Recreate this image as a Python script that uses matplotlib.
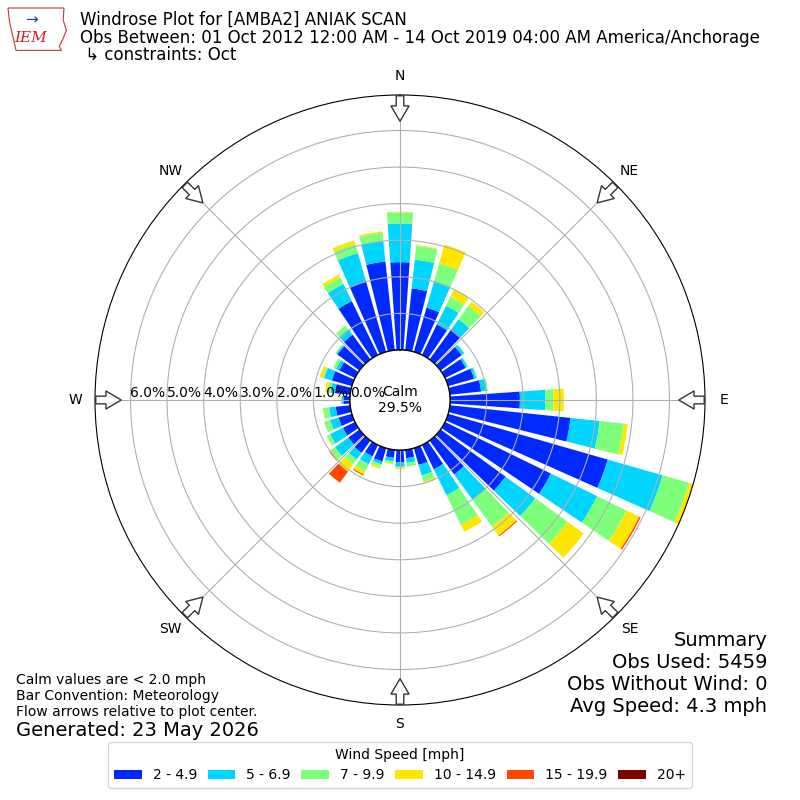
import numpy as np
import matplotlib
matplotlib.use("Agg")
import matplotlib.pyplot as plt
from matplotlib.patches import Polygon

# direction bins (deg, meteorological) and speed bins
directions = np.arange(0, 360, 10)
speed_labels = ["2 - 4.9", "5 - 6.9", "7 - 9.9", "10 - 14.9", "15 - 19.9", "20+"]

# percent of observations per direction, one list per speed bin (0..350 deg)
spd_2_5 = [2.40, 1.70, 1.26, 0.93, 1.02, 0.72, 0.63, 0.74, 0.86, 1.91, 3.32, 4.54,
           3.22, 2.20, 1.15, 0.74, 0.48, 0.23, 0.34, 0.22, 0.38, 0.35, 0.42, 0.38,
           0.37, 0.38, 0.40, 0.18, 0.42, 0.57, 0.48, 0.75, 0.84, 1.64, 2.02, 2.44]
spd_5_7 = [1.06, 0.79, 0.76, 0.57, 0.34, 0.08, 0.06, 0.06, 0.16, 0.70, 0.80, 1.56,
           1.41, 1.00, 0.85, 0.79, 0.30, 0.13, 0.12, 0.10, 0.08, 0.24, 0.22, 0.45,
           0.39, 0.24, 0.18, 0.04, 0.12, 0.22, 0.10, 0.04, 0.19, 0.52, 0.79, 0.56]
spd_7_10 = [0.30, 0.38, 0.50, 0.27, 0.45, 0.02, 0.02, 0.03, 0.03, 0.22, 0.66, 0.75,
            0.89, 1.10, 0.91, 0.90, 0.18, 0.10, 0.02, 0.05, 0.07, 0.21, 0.16, 0.15,
            0.10, 0.17, 0.17, 0.02, 0.08, 0.04, 0.08, 0.03, 0.12, 0.20, 0.26, 0.23]
spd_10_15 = [0.02, 0.02, 0.53, 0.23, 0.15, 0.00, 0.00, 0.00, 0.00, 0.28, 0.11, 0.12,
             0.39, 0.54, 0.30, 0.21, 0.04, 0.00, 0.04, 0.03, 0.06, 0.10, 0.25, 0.03,
             0.01, 0.00, 0.00, 0.02, 0.07, 0.08, 0.00, 0.00, 0.00, 0.08, 0.10, 0.04]
spd_15_20 = [0.00, 0.00, 0.00, 0.00, 0.00, 0.00, 0.00, 0.00, 0.00, 0.00, 0.00, 0.00,
             0.04, 0.00, 0.03, 0.00, 0.00, 0.00, 0.00, 0.00, 0.00, 0.03, 0.38, 0.02,
             0.00, 0.00, 0.00, 0.00, 0.00, 0.00, 0.00, 0.00, 0.00, 0.00, 0.00, 0.00]
spd_20p = [0.0] * 36

calm_pct = 29.5
obs_used = 5459
obs_nowind = 0
avg_speed = 4.3
rticks = [0, 1, 2, 3, 4, 5, 6]
compass = ["N", "NE", "E", "SE", "S", "SW", "W", "NW"]

table = np.array([spd_2_5, spd_5_7, spd_7_10, spd_10_15, spd_15_20, spd_20p])
colors = plt.cm.jet(np.linspace(0, 1, 7)[1:])

fig = plt.figure(figsize=(8, 8), dpi=100)
ax = fig.add_axes([0.11875, 0.11875, 0.7625, 0.7625], projection="polar")
ax.set_theta_zero_location("N")
ax.set_theta_direction(-1)

theta = np.radians(directions)
base = np.zeros(len(directions))
for i in range(len(table)):
    ax.bar(theta, table[i], width=np.radians(8), bottom=base, color=colors[i],
           edgecolor="none", label=speed_labels[i])
    base = base + table[i]

rmax = base.max()
calm_frac = 50.0 / 305.0
rorig = -calm_frac * rmax / (1 - calm_frac)
ax.set_ylim(0, rmax)
ax.set_rorigin(rorig)

ax.set_xticks(np.radians(np.arange(0, 360, 45)))
ax.set_xticklabels(compass, fontsize=10)
ax.set_yticks(rticks)
ax.set_yticklabels(["%.1f%%" % r for r in rticks], fontsize=10)
ax.set_rlabel_position(270)
ax.grid(True, color="#b0b0b0", lw=0.8)

# calm circle
tt = np.linspace(0, 2 * np.pi, 361)
ax.plot(tt, np.zeros_like(tt), color="k", lw=1.2, zorder=3)
ax.text(0.5, 0.5, "Calm\n%.1f%%" % calm_pct, transform=ax.transAxes,
        ha="center", va="center", fontsize=10, zorder=4)


def px2r(px):
    return rorig + px / 305.0 * (rmax - rorig)


# flow arrows on the edge
for ang in np.radians(np.arange(0, 360, 45)):
    ax.annotate("", xy=(ang, px2r(276)), xytext=(ang, px2r(307)),
                arrowprops=dict(arrowstyle="simple,head_length=1.1,head_width=1.3,tail_width=0.55",
                                fc="white", ec="#333333", lw=1, mutation_scale=10),
                annotation_clip=False, zorder=5)

# titles
fig.text(0.1, 1 - 20 / 800, "Windrose Plot for [AMBA2] ANIAK SCAN", fontsize=12, va="center")
fig.text(0.1, 1 - 38 / 800,
         "Obs Between: 01 Oct 2012 12:00 AM - 14 Oct 2019 04:00 AM America/Anchorage",
         fontsize=12, va="center")
fig.text(0.1, 1 - 55 / 800, " \u21b3 constraints: Oct", fontsize=12, va="center")

# rough IEM logo
logo = Polygon([[0.010, 0.990], [0.080, 0.990], [0.079, 0.975], [0.083, 0.962],
                [0.078, 0.950], [0.074, 0.942], [0.077, 0.937], [0.020, 0.937],
                [0.016, 0.955], [0.012, 0.972]], closed=True, fill=False,
               ec="#cc3333", lw=0.8, transform=fig.transFigure)
fig.add_artist(logo)
fig.text(0.038, 0.952, "IEM", fontsize=11, color="#cc2222", style="italic",
         family="serif", ha="center", va="center")
fig.text(0.040, 0.975, "\u2192", fontsize=11, color="#2233cc", ha="center", va="center")

# notes
fig.text(0.02, 1 - 680 / 800, "Calm values are < 2.0 mph", fontsize=10, va="center")
fig.text(0.02, 1 - 696 / 800, "Bar Convention: Meteorology", fontsize=10, va="center")
fig.text(0.02, 1 - 712 / 800, "Flow arrows relative to plot center.", fontsize=10, va="center")
fig.text(0.02, 1 - 730 / 800, "Generated: 23 May 2026", fontsize=14, va="center")

summary = ["Summary", "Obs Used: %d" % obs_used,
           "Obs Without Wind: %d" % obs_nowind, "Avg Speed: %.1f mph" % avg_speed]
for k, line in enumerate(summary):
    fig.text(0.959, 1 - (640 + 22 * k) / 800, line, fontsize=14, ha="right", va="center")

ax.legend(loc="lower center", bbox_to_anchor=(0.5, 0.015), bbox_transform=fig.transFigure,
          ncol=6, fontsize=10, title="Wind Speed [mph]", title_fontsize=10,
          borderaxespad=0, columnspacing=0.75)

fig.savefig("out.png", dpi=100)
